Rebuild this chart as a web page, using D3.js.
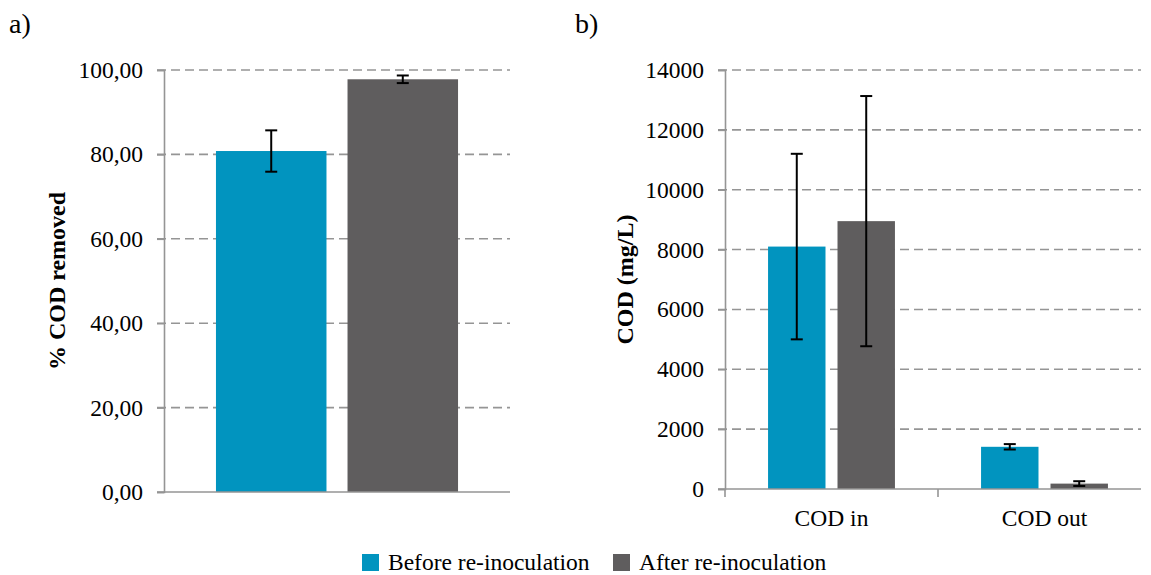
<!DOCTYPE html>
<html>
<head>
<meta charset="utf-8">
<script src="https://cdn.jsdelivr.net/npm/d3@7"></script>
<style>
  body { margin: 0; background: #fff; }
  svg { font-family: "Liberation Serif", "Times New Roman", serif; }
</style>
</head>
<body>
<div id="chart"></div>
<script>
// data
var series = ['Before re-inoculation', 'After re-inoculation'];
var colors = ['#0194bf', '#5f5d5e'];

var removedValues = [80.8, 97.8];
var removedErrors = [4.9, 0.9];
var removedTicks = [0, 20, 40, 60, 80, 100];

var codCategories = ['COD in', 'COD out'];
var codBefore = [8100, 1410];
var codAfter = [8950, 180];
var codBeforeErr = [3100, 90];
var codAfterErr = [4180, 80];
var codTicks = [0, 2000, 4000, 6000, 8000, 10000, 12000, 14000];

var W = 1151, H = 575;
var fs = 23.5;
var svg = d3.select('#chart').append('svg')
    .attr('width', W)
    .attr('height', H);

var gridColor = '#959595';
var fmtComma = function(v) { return d3.format('.2f')(v).replace('.', ','); };

function drawGrid(g, y, ticks, x0, x1) {
    g.selectAll('line.grid')
        .data(ticks.filter(function(t) { return t > 0; }))
        .enter().append('line')
        .attr('class', 'grid')
        .attr('x1', x0).attr('x2', x1)
        .attr('y1', function(d) { return y(d); })
        .attr('y2', function(d) { return y(d); })
        .attr('stroke', gridColor)
        .attr('stroke-width', 1.6)
        .attr('stroke-dasharray', '9,5');
}

function drawYAxis(g, y, ticks, x, fmt) {
    var axis = d3.axisLeft(y).tickValues(ticks).tickFormat(fmt).tickSize(7).tickPadding(14);
    var ax = g.append('g').attr('transform', 'translate(' + x + ',0)').call(axis);
    ax.select('.domain').attr('stroke', gridColor).attr('stroke-width', 1.6);
    ax.selectAll('.tick line').attr('stroke', gridColor).attr('stroke-width', 1.6);
    ax.selectAll('.tick text')
        .attr('font-size', fs)
        .attr('fill', '#000')
        .attr('font-family', '"Liberation Serif", serif');
}

function errorBar(g, cx, yTop, yBot) {
    var cap = 6;
    g.append('line').attr('x1', cx).attr('x2', cx).attr('y1', yTop).attr('y2', yBot)
        .attr('stroke', '#000').attr('stroke-width', 2);
    [yTop, yBot].forEach(function(yy) {
        g.append('line').attr('x1', cx - cap).attr('x2', cx + cap).attr('y1', yy).attr('y2', yy)
            .attr('stroke', '#000').attr('stroke-width', 2);
    });
}

// ---- panel a ----
var ga = svg.append('g');
var ya = d3.scaleLinear().domain([0, 100]).range([492, 70]);
var xa = d3.scaleBand().domain(['a']).range([164, 510]);
var xaInner = d3.scaleBand().domain(series).range([xa('a'), xa('a') + xa.bandwidth()])
    .paddingInner(0.16).paddingOuter(0.395);

drawGrid(ga, ya, removedTicks, 157, 510);

series.forEach(function(s, i) {
    ga.append('rect')
        .attr('x', xaInner(s))
        .attr('width', xaInner.bandwidth())
        .attr('y', ya(removedValues[i]))
        .attr('height', ya(0) - ya(removedValues[i]))
        .attr('fill', colors[i]);
    errorBar(ga, xaInner(s) + xaInner.bandwidth() / 2,
        ya(removedValues[i] + removedErrors[i]), ya(removedValues[i] - removedErrors[i]));
});

drawYAxis(ga, ya, removedTicks, 164, fmtComma);
ga.append('line').attr('x1', 157).attr('x2', 510).attr('y1', ya(0)).attr('y2', ya(0))
    .attr('stroke', gridColor).attr('stroke-width', 1.6);

ga.append('text')
    .attr('transform', 'translate(65,' + ((ya(0) + ya(100)) / 2) + ') rotate(-90)')
    .attr('text-anchor', 'middle')
    .attr('font-size', 24)
    .attr('font-weight', 'bold')
    .text('% COD removed');

ga.append('text').attr('x', 9).attr('y', 33).attr('font-size', 28).text('a)');

// ---- panel b ----
var gb = svg.append('g');
var yb = d3.scaleLinear().domain([0, 14000]).range([489, 70]);
var xb = d3.scaleBand().domain(codCategories).range([725, 1151]);
var xbInner = d3.scaleBand().domain(series).range([0, xb.bandwidth()])
    .paddingInner(0.173).paddingOuter(0.62);

drawGrid(gb, yb, codTicks, 718, 1141);

var codSeries = [
    { vals: codBefore, errs: codBeforeErr },
    { vals: codAfter, errs: codAfterErr }
];

codCategories.forEach(function(c, ci) {
    series.forEach(function(s, si) {
        var v = codSeries[si].vals[ci], e = codSeries[si].errs[ci];
        var bx = xb(c) + xbInner(s);
        gb.append('rect')
            .attr('x', bx)
            .attr('width', xbInner.bandwidth())
            .attr('y', yb(v))
            .attr('height', yb(0) - yb(v))
            .attr('fill', colors[si]);
        errorBar(gb, bx + xbInner.bandwidth() / 2, yb(v + e), yb(v - e));
    });
});

drawYAxis(gb, yb, codTicks, 725, d3.format('d'));

// x axis for panel b
var xAxisB = gb.append('g').attr('transform', 'translate(0,' + yb(0) + ')');
xAxisB.append('line').attr('x1', 718).attr('x2', 1141).attr('y1', 0).attr('y2', 0)
    .attr('stroke', gridColor).attr('stroke-width', 1.6);
xAxisB.selectAll('line.sep')
    .data(codCategories)
    .enter().append('line')
    .attr('class', 'sep')
    .attr('x1', function(d) { return xb(d); })
    .attr('x2', function(d) { return xb(d); })
    .attr('y1', 0).attr('y2', 8)
    .attr('stroke', gridColor).attr('stroke-width', 1.6);
xAxisB.selectAll('text.cat')
    .data(codCategories)
    .enter().append('text')
    .attr('class', 'cat')
    .attr('x', function(d) { return xb(d) + xb.bandwidth() / 2; })
    .attr('y', 37)
    .attr('text-anchor', 'middle')
    .attr('font-size', fs)
    .text(function(d) { return d; });

gb.append('text')
    .attr('transform', 'translate(633,' + ((yb(0) + yb(14000)) / 2) + ') rotate(-90)')
    .attr('text-anchor', 'middle')
    .attr('font-size', 24)
    .attr('font-weight', 'bold')
    .text('COD (mg/L)');

gb.append('text').attr('x', 575).attr('y', 33).attr('font-size', 28).text('b)');

// ---- legend ----
var legend = svg.append('g').attr('transform', 'translate(362,554)');
var legendX = [0, 251];
series.forEach(function(s, i) {
    var item = legend.append('g').attr('transform', 'translate(' + legendX[i] + ',0)');
    item.append('rect').attr('width', 17).attr('height', 17).attr('fill', colors[i]);
    item.append('text').attr('x', 26).attr('y', 16).attr('font-size', fs).text(s);
});
</script>
</body>
</html>
